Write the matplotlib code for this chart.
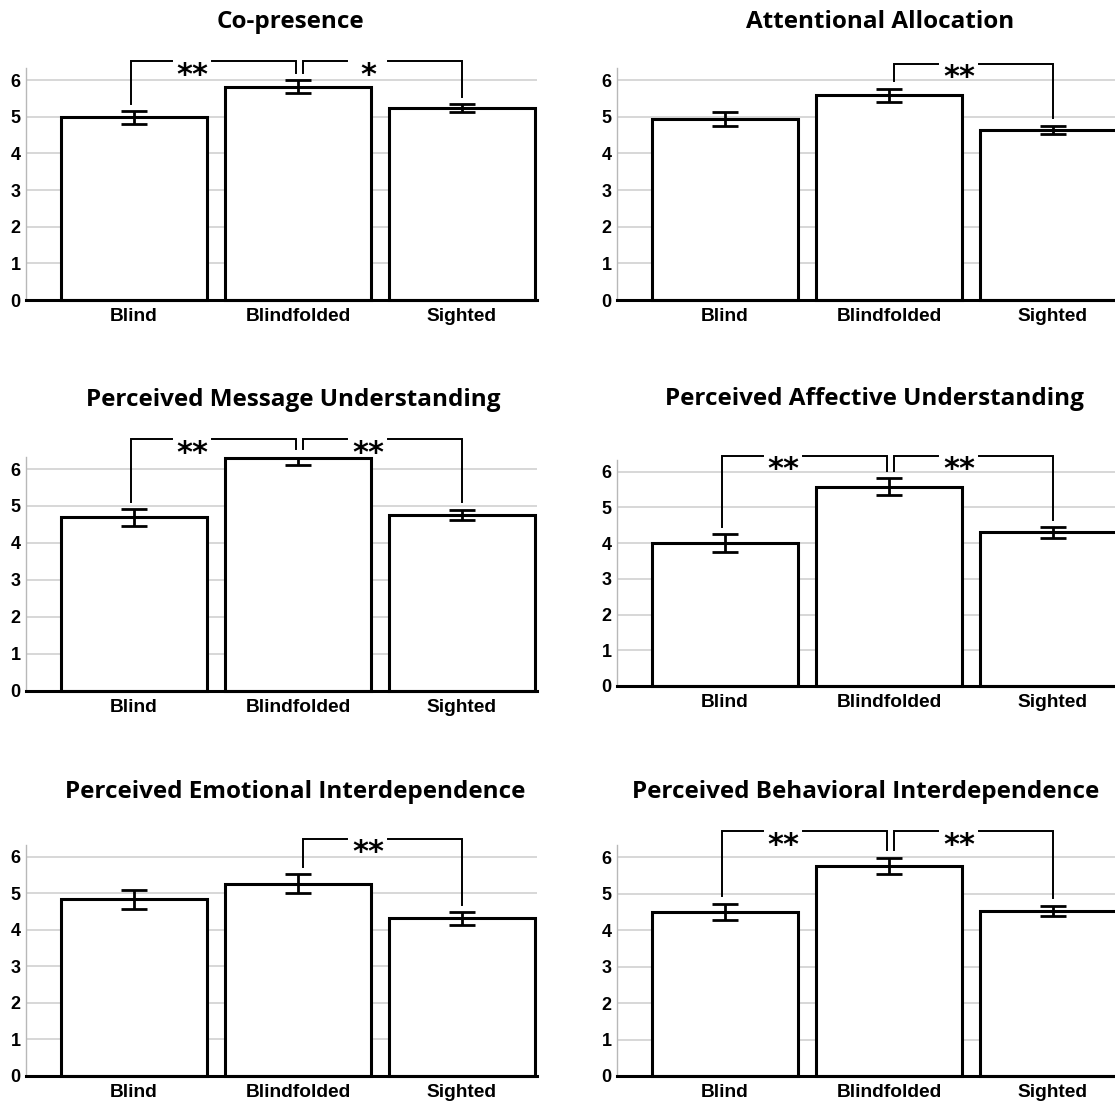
import matplotlib
matplotlib.use("Agg")
import matplotlib.pyplot as plt
from matplotlib.transforms import ScaledTranslation

W, H = 1115, 1103
DPI = 100

categories = ["Blind", "Blindfolded", "Sighted"]
titles = ["Co-presence", "Attentional Allocation",
          "Perceived Message Understanding", "Perceived Affective Understanding",
          "Perceived Emotional Interdependence", "Perceived Behavioral Interdependence"]
y_ticks = [0, 1, 2, 3, 4, 5, 6]

copresence_mean = [4.98, 5.82, 5.24]
copresence_err = [0.18, 0.17, 0.11]
attention_mean = [4.94, 5.59, 4.64]
attention_err = [0.19, 0.18, 0.12]
message_mean = [4.69, 6.31, 4.76]
message_err = [0.22, 0.20, 0.14]
affective_mean = [4.01, 5.58, 4.30]
affective_err = [0.25, 0.24, 0.16]
emotional_mean = [4.83, 5.26, 4.31]
emotional_err = [0.27, 0.26, 0.17]
behavioral_mean = [4.50, 5.77, 4.53]
behavioral_err = [0.23, 0.22, 0.14]

# significance brackets: (left bar, right bar, label, bracket height)
copresence_sig = [(0, 1, "**", 6.51), (1, 2, "*", 6.51)]
attention_sig = [(1, 2, "**", 6.45)]
message_sig = [(0, 1, "**", 6.80), (1, 2, "**", 6.80)]
affective_sig = [(0, 1, "**", 6.44), (1, 2, "**", 6.44)]
emotional_sig = [(1, 2, "**", 6.48)]
behavioral_sig = [(0, 1, "**", 6.71), (1, 2, "**", 6.71)]

means = [copresence_mean, attention_mean, message_mean, affective_mean, emotional_mean, behavioral_mean]
errs = [copresence_err, attention_err, message_err, affective_err, emotional_err, behavioral_err]
sigs = [copresence_sig, attention_sig, message_sig, affective_sig, emotional_sig, behavioral_sig]

# layout: (spine x px, zero-line y px, px per unit, title y px, title x px)
layout = [
    (26, 300, 36.65, 22, 290),
    (617, 300, 36.65, 22, 880),
    (26, 690.7, 36.95, 400, 293),
    (617, 686, 35.7, 399, 874),
    (26, 1076, 36.55, 792, 295),
    (617, 1076, 36.45, 792, 866),
]

XMIN, XMAX = -0.66, 2.46
YTOP = 6.33
AX_W = 511

fig = plt.figure(figsize=(W / DPI, H / DPI), dpi=DPI)
fig.patch.set_facecolor("white")
down = ScaledTranslation(0, -4 / DPI, fig.dpi_scale_trans)

for k in range(6):
    sx, y0, ppu, ty, tx = layout[k]
    hpx = YTOP * ppu
    ax = fig.add_axes([sx / W, 1 - y0 / H, AX_W / W, hpx / H])
    ax.set_xlim(XMIN, XMAX)
    ax.set_ylim(0, YTOP)
    xs = list(range(len(categories)))
    for g in y_ticks[1:]:
        ax.axhline(g, color="#d4d4d4", lw=1.3, zorder=0)
    ax.bar(xs, means[k], width=0.89, color="white", edgecolor="black",
           linewidth=2.2, zorder=5, clip_on=False)
    ax.errorbar(xs, means[k], yerr=errs[k], fmt="none", ecolor="black",
                elinewidth=2.0, capsize=9.6, capthick=2.0, zorder=6)
    for s in ["top", "right"]:
        ax.spines[s].set_visible(False)
    ax.spines["left"].set_color("#b8b8b8")
    ax.spines["left"].set_linewidth(1.0)
    ax.spines["bottom"].set_color("black")
    ax.spines["bottom"].set_linewidth(2.2)
    ax.spines["bottom"].set_zorder(7)
    ax.set_yticks(y_ticks)
    ax.set_yticklabels([str(t) for t in y_ticks], fontfamily="Liberation Sans",
                       fontweight="bold", fontsize=13)
    for lbl in ax.get_yticklabels():
        lbl.set_transform(lbl.get_transform() + down)
    ax.set_xticks(xs)
    ax.set_xticklabels(categories, fontfamily="Liberation Sans",
                       fontweight="bold", fontsize=13.8)
    ax.tick_params(axis="both", length=0)
    ax.tick_params(axis="y", pad=4)
    ax.tick_params(axis="x", pad=6)
    ax.set_facecolor("white")

    # significance brackets
    tops = [min(m + e, YTOP) for m, e in zip(means[k], errs[k])]
    for (i, j, lab, yb) in sigs[k]:
        if i == 0:
            x1, x2, frac = i - 0.02, j - 0.01, 0.37
        else:
            x1, x2, frac = i + 0.03, j, 0.41
        b1 = tops[i] + 0.2
        b2 = tops[j] + 0.2
        xc = x1 + (x2 - x1) * frac
        gap = 0.125
        ax.plot([x1, x1, xc - gap], [b1, yb, yb], color="black", lw=1.4,
                clip_on=False, zorder=3, solid_joinstyle="miter")
        ax.plot([xc + gap, x2, x2], [yb, yb, b2], color="black", lw=1.4,
                clip_on=False, zorder=3, solid_joinstyle="miter")
        ax.annotate(lab, xy=(xc, yb), xytext=(0, -16), textcoords="offset points",
                    ha="center", va="baseline", fontsize=22, fontweight="bold",
                    fontfamily="DejaVu Sans", annotation_clip=False, zorder=4)

    fig.text(tx / W, 1 - ty / H, titles[k], ha="center", va="center",
             fontfamily="Open Sans", fontweight="bold", fontsize=17.5)

fig.savefig("out.png", dpi=DPI, facecolor="white")
